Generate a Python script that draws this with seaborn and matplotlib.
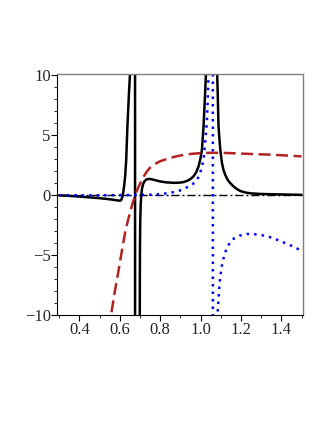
import numpy as np
import matplotlib
matplotlib.use("Agg")
import matplotlib.pyplot as plt
import seaborn as sns
import pandas as pd

# ---- data ----
black_x = [0.300, 0.350, 0.420, 0.500, 0.550, 0.575, 0.590, 0.600, 0.606, 0.610,
           0.614, 0.618, 0.622, 0.627, 0.632, 0.638, 0.646, 0.652, 0.660, 0.668,
           0.6755, 0.6765, 0.690, 0.6990, 0.7000, 0.7015, 0.7040, 0.7070, 0.7110,
           0.7160, 0.7230, 0.7320, 0.7450, 0.7600, 0.7800, 0.8000, 0.8300, 0.8700,
           0.9000, 0.9200, 0.9400, 0.9550, 0.9650, 0.9780, 0.9900, 0.9990, 1.0070,
           1.0150, 1.0230, 1.0290, 1.0350,
           1.0780, 1.0820, 1.0850, 1.0890, 1.0940, 1.0980, 1.1060, 1.1140, 1.1220,
           1.1340, 1.1470, 1.1650, 1.1800, 1.1970, 1.2200, 1.2500, 1.3000, 1.4000,
           1.5000]
black_y = [0.00, -0.05, -0.13, -0.24, -0.33, -0.39, -0.43, -0.45, -0.42, -0.30,
           -0.05, 0.30, 0.80, 1.60, 2.90, 5.70, 8.60, 10.5, 16.0, 30.0,
           80.0, -80.0, -25.0, -12.0, -5.0, -2.2, -0.7, 0.10, 0.60,
           0.95, 1.18, 1.32, 1.37, 1.33, 1.24, 1.16, 1.08, 1.04,
           1.06, 1.12, 1.25, 1.42, 1.58, 1.90, 2.40, 3.00, 3.80,
           5.77, 8.60, 11.0, 20.0,
           20.0, 10.3, 8.60, 5.77, 4.60, 3.80, 2.70, 2.10, 1.72,
           1.30, 1.02, 0.72, 0.52, 0.36, 0.24, 0.16, 0.11, 0.07,
           0.04]

red_x = [0.545, 0.557, 0.575, 0.594, 0.612, 0.629, 0.643, 0.655, 0.666, 0.676,
         0.688, 0.700, 0.710, 0.720, 0.735, 0.750, 0.775, 0.800, 0.850, 0.900,
         0.950, 1.000, 1.060, 1.130, 1.200, 1.350, 1.500]
red_y = [-11.2, -10.0, -8.1, -6.3, -4.5, -2.9, -1.95, -1.2, -0.55, 0.0,
         0.50, 0.95, 1.30, 1.60, 2.00, 2.30, 2.62, 2.84, 3.13, 3.32,
         3.45, 3.52, 3.55, 3.53, 3.48, 3.39, 3.25]

blue_x = [0.300, 0.500, 0.700, 0.760, 0.800, 0.841, 0.883, 0.905, 0.924, 0.942,
          0.957, 0.970, 0.982, 0.991, 0.998, 1.007, 1.015, 1.023, 1.032, 1.037,
          1.040, 1.045, 1.0605,
          1.0615, 1.078, 1.084, 1.089, 1.094, 1.103, 1.111, 1.121, 1.136,
          1.159, 1.193, 1.230, 1.268, 1.307, 1.345, 1.382, 1.418, 1.453,
          1.486, 1.500]
blue_y = [0.00, 0.00, 0.03, 0.05, 0.09, 0.18, 0.32, 0.44, 0.60, 0.74,
          0.88, 1.05, 1.30, 1.55, 1.86, 2.40, 2.97, 4.37, 6.30, 8.60,
          10.2, 20.0, 80.0,
          -80.0, -15.0, -10.0, -8.7, -7.4, -6.1, -5.46, -4.8, -4.2,
          -3.67, -3.37, -3.23, -3.25, -3.34, -3.50, -3.73, -3.98, -4.23,
          -4.51, -4.62]

zero_x = [0.300, 1.500]
zero_y = [0.0, 0.0]

x_ticks = [0.4, 0.6, 0.8, 1.0, 1.2, 1.4]
x_tick_labels = ["0.4", "0.6", "0.8", "1.0", "1.2", "1.4"]
y_ticks = [-10, -5, 0, 5, 10]
y_tick_labels = ["\u221210", "\u22125", "0", "5", "10"]

# ---- plotting ----
sns.set_style("white")
plt.rcParams['font.family'] = ['Liberation Serif', 'DejaVu Serif']

fig = plt.figure(figsize=(3.27, 4.23), dpi=100)
ax = fig.add_axes([0.174, 0.255, 0.753, 0.570])

df_zero = pd.DataFrame({"x": zero_x, "y": zero_y})
df_black = pd.DataFrame({"x": black_x, "y": black_y})
df_red = pd.DataFrame({"x": red_x, "y": red_y})
df_blue = pd.DataFrame({"x": blue_x, "y": blue_y})

sns.lineplot(data=df_zero, x="x", y="y", ax=ax, sort=False, estimator=None,
             color="black", linewidth=1.0)
ax.lines[-1].set_dashes((6.0, 2.0, 1.5, 2.0))

sns.lineplot(data=df_black, x="x", y="y", ax=ax, sort=False, estimator=None,
             color="black", linewidth=1.8)

sns.lineplot(data=df_red, x="x", y="y", ax=ax, sort=False, estimator=None,
             color="#b22222", linewidth=1.8)
ax.lines[-1].set_dashes((4.8, 2.2))

sns.lineplot(data=df_blue, x="x", y="y", ax=ax, sort=False, estimator=None,
             color="#0000ff", linewidth=1.8)
ax.lines[-1].set_dashes((1.0, 2.0))
ax.lines[-1].set_dash_capstyle("butt")

ax.set_xlim(0.289, 1.508)
ax.set_ylim(-10.0, 10.12)
ax.set_xlabel("")
ax.set_ylabel("")

ax.set_xticks(x_ticks)
ax.set_xticklabels(x_tick_labels)
ax.set_yticks(y_ticks)
ax.set_yticklabels(y_tick_labels)
ax.set_xticks(np.arange(0.3, 1.55, 0.1), minor=True)
ax.set_yticks(np.arange(-10, 11, 1), minor=True)

ax.tick_params(axis="both", which="major", direction="out", length=4, width=0.8,
               color="black", labelsize=12, pad=0.5, left=True, bottom=True)
ax.tick_params(axis="both", which="minor", direction="out", length=2, width=0.6,
               color="black", left=True, bottom=True)
ax.tick_params(axis="x", which="major", pad=1.0)

for s in ["left", "bottom"]:
    ax.spines[s].set_color("black")
    ax.spines[s].set_linewidth(0.8)
for s in ["top", "right"]:
    ax.spines[s].set_color("#808080")
    ax.spines[s].set_linewidth(1.0)

fig.savefig("out.png", dpi=100)
